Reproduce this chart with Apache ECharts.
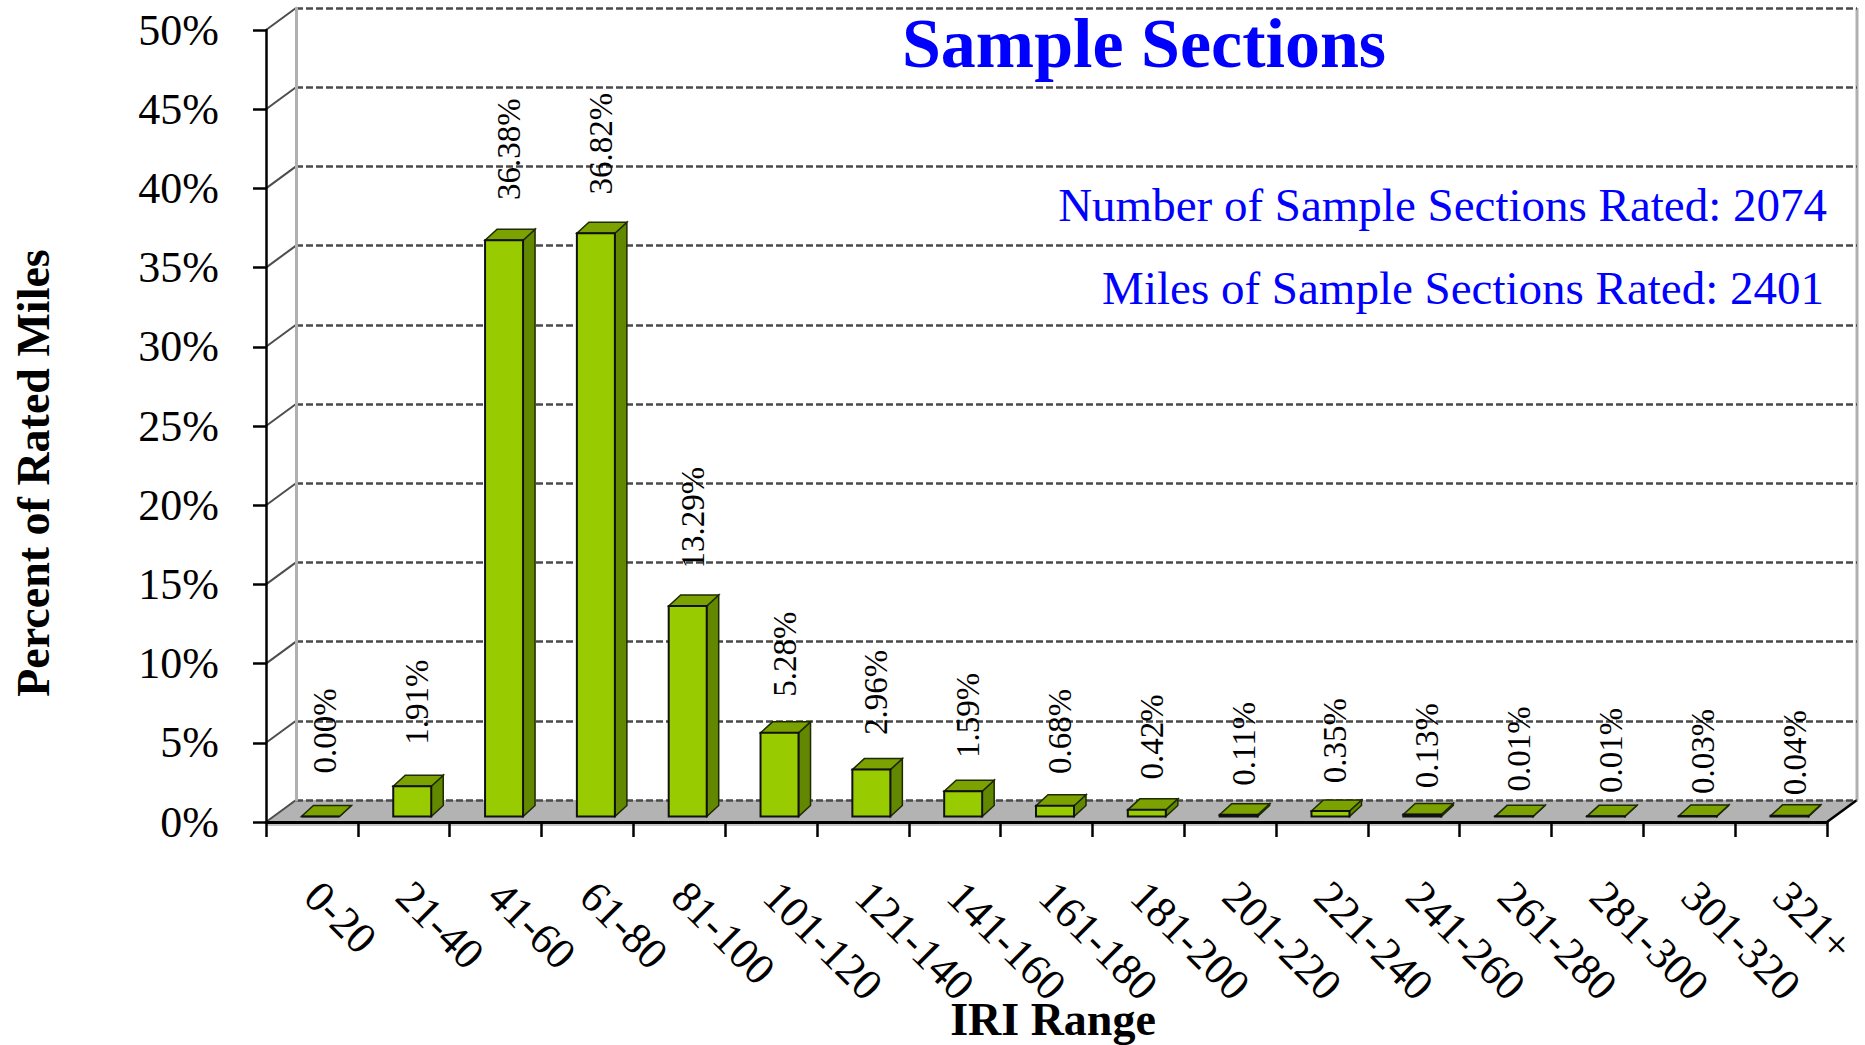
<!DOCTYPE html>
<html>
<head>
<meta charset="utf-8">
<script src="https://cdn.jsdelivr.net/npm/echarts@6/dist/echarts.min.js"></script>
<style>
html,body{margin:0;padding:0;background:#ffffff;font-family:'Liberation Serif';}
#chart{width:1865px;height:1045px;}
</style>
</head>
<body>
<div id="chart"></div>
<script>
// ---- data ----
const categories = ['0-20','21-40','41-60','61-80','81-100','101-120','121-140','141-160','161-180','181-200','201-220','221-240','241-260','261-280','281-300','301-320','321+'];
const values = [0.00, 1.91, 36.38, 36.82, 13.29, 5.28, 2.96, 1.59, 0.68, 0.42, 0.11, 0.35, 0.13, 0.01, 0.01, 0.03, 0.04];
const yTicks = [0, 5, 10, 15, 20, 25, 30, 35, 40, 45, 50];
const titleText = 'Sample Sections';
const noteLines = ['Number of Sample Sections Rated: 2074', 'Miles of Sample Sections Rated: 2401'];
const xTitle = 'IRI Range';
const yTitle = 'Percent of Rated Miles';

// ---- style constants ----
const FONT = 'Liberation Serif';
const WALL_DX = 30, WALL_DY = -22;   // depth of floor / back wall
const BAR_DX = 12, BAR_DY = -11;     // depth of bars
const BAR_OFF_X = 8.5, BAR_OFF_Y = -5.5;
const BAR_W = 38;

const chart = echarts.init(document.getElementById('chart'), null, {renderer: 'svg'});

const yMax = yTicks[yTicks.length - 1];

const option = {
  backgroundColor: '#ffffff',
  animation: false,
  textStyle: {fontFamily: FONT},
  grid: [
    {left: 266, top: 30, width: 1561, height: 792, containLabel: false, outerBoundsMode: 'none'},
    {left: 296, top: 8, width: 1561, height: 792, containLabel: false, outerBoundsMode: 'none'}
  ],
  xAxis: [
    {
      type: 'category', gridIndex: 0, data: categories, z: 6,
      axisLine: {show: true, lineStyle: {color: '#000', width: 3}},
      axisTick: {show: true, length: 15, interval: 0, lineStyle: {color: '#000', width: 2.5}},
      axisLabel: {interval: 0, rotate: -45, margin: 67, fontFamily: FONT, fontSize: 44, color: '#000'},
      splitLine: {show: false}
    },
    {
      type: 'category', gridIndex: 1, data: categories, show: false
    }
  ],
  yAxis: [
    {
      type: 'value', gridIndex: 0, min: 0, max: yMax, interval: 5, z: 6,
      axisLine: {show: true, lineStyle: {color: '#000', width: 2.5}},
      axisTick: {show: true, length: 13, lineStyle: {color: '#000', width: 2.5}},
      axisLabel: {formatter: '{value}%', margin: 47, fontFamily: FONT, fontSize: 44, color: '#000'},
      splitLine: {show: false}
    },
    {
      type: 'value', gridIndex: 1, min: 0, max: yMax, interval: 5, z: 3,
      axisLine: {show: true, lineStyle: {color: '#b0b0b0', width: 3}},
      axisTick: {show: false},
      axisLabel: {show: false},
      splitLine: {show: true, lineStyle: {color: '#4a4a4a', width: 2.5, type: [7, 3]}}
    }
  ],
  graphic: [
    {
      type: 'text', x: 1144, y: 43, z: 10,
      style: {text: titleText, fontFamily: FONT, fontSize: 70, fontWeight: 'bold', fill: '#0000ff', align: 'center', verticalAlign: 'middle'}
    },
    {
      type: 'text', x: 1827, y: 204.5, z: 10,
      style: {text: noteLines[0], fontFamily: FONT, fontSize: 47, fill: '#0000ff', align: 'right', verticalAlign: 'middle'}
    },
    {
      type: 'text', x: 1824, y: 288, z: 10,
      style: {text: noteLines[1], fontFamily: FONT, fontSize: 47, fill: '#0000ff', align: 'right', verticalAlign: 'middle'}
    },
    {
      type: 'text', x: 33, y: 473, rotation: Math.PI / 2, z: 10,
      style: {text: yTitle, fontFamily: FONT, fontSize: 46, fontWeight: 'bold', fill: '#000', align: 'center', verticalAlign: 'middle'}
    },
    {
      type: 'text', x: 1053, y: 1019, z: 10,
      style: {text: xTitle, fontFamily: FONT, fontSize: 46, fontWeight: 'bold', fill: '#000', align: 'center', verticalAlign: 'middle'}
    }
  ],
  series: [
    {
      // floor, right wall edge and tick connectors
      type: 'custom', xAxisIndex: 0, yAxisIndex: 0, z: 2, silent: true,
      data: [[0, 0]],
      renderItem: function (params, api) {
        const bw = api.size([1, 0])[0];
        const pL = api.coord([0, 0]);
        const pR = api.coord([categories.length - 1, 0]);
        const xL = pL[0] - bw / 2, xR = pR[0] + bw / 2, y0 = pL[1];
        const yTop = api.coord([0, yMax])[1];
        const children = [
          {type: 'rect', shape: {x: xL, y: y0, width: xR - xL, height: 4}, style: {fill: '#c4c4c4'}},
          {type: 'polygon', shape: {points: [[xL, y0], [xR, y0], [xR + WALL_DX, y0 + WALL_DY], [xL + WALL_DX, y0 + WALL_DY]]},
            style: {fill: '#b3b3b3'}},
          {type: 'line', shape: {x1: xR, y1: y0, x2: xR + WALL_DX, y2: y0 + WALL_DY}, style: {stroke: '#000', lineWidth: 2.5}},
          {type: 'line', shape: {x1: xR + WALL_DX, y1: y0 + WALL_DY, x2: xR + WALL_DX, y2: yTop + WALL_DY}, style: {stroke: '#b0b0b0', lineWidth: 3}}
        ];
        yTicks.forEach(function (t) {
          const yy = api.coord([0, t])[1];
          children.push({type: 'line', shape: {x1: xL, y1: yy, x2: xL + WALL_DX, y2: yy + WALL_DY},
            style: {stroke: '#4d4d4d', lineWidth: 2}});
        });
        return {type: 'group', children: children};
      }
    },
    {
      // 3D-looking bars
      type: 'custom', xAxisIndex: 0, yAxisIndex: 0, z: 5,
      data: values.map(function (v, i) { return [i, v]; }),
      renderItem: function (params, api) {
        const i = api.value(0), v = api.value(1);
        const p0 = api.coord([i, 0]);
        const p1 = api.coord([i, v]);
        const cx = p0[0] + BAR_OFF_X;
        const x1 = cx - BAR_W / 2, x2 = cx + BAR_W / 2;
        const yb = p0[1] + BAR_OFF_Y, yt = p1[1] + BAR_OFF_Y;
        const edge = '#1e2a00';
        const gap = 43 - 1.4 * i;   // label distance (perspective-like drift of the original)
        return {
          type: 'group',
          children: [
            {type: 'polygon', shape: {points: [[x2, yt], [x2 + BAR_DX, yt + BAR_DY], [x2 + BAR_DX, yb + BAR_DY], [x2, yb]]},
              style: {fill: '#628800', stroke: edge, lineWidth: 1.5}},
            {type: 'polygon', shape: {points: [[x1, yt], [x2, yt], [x2 + BAR_DX, yt + BAR_DY], [x1 + BAR_DX, yt + BAR_DY]]},
              style: {fill: '#7ba200', stroke: edge, lineWidth: 1.5}},
            {type: 'rect', shape: {x: x1, y: yt, width: BAR_W, height: yb - yt},
              style: {fill: '#99cc00', stroke: '#111', lineWidth: 2}},
            {type: 'text', x: cx + 5, y: yt - gap, rotation: Math.PI / 2,
              style: {text: v.toFixed(2) + '%', fontFamily: FONT, fontSize: 33, fill: '#000', align: 'left', verticalAlign: 'middle'}}
          ]
        };
      }
    }
  ]
};
chart.setOption(option);
</script>
</body>
</html>
